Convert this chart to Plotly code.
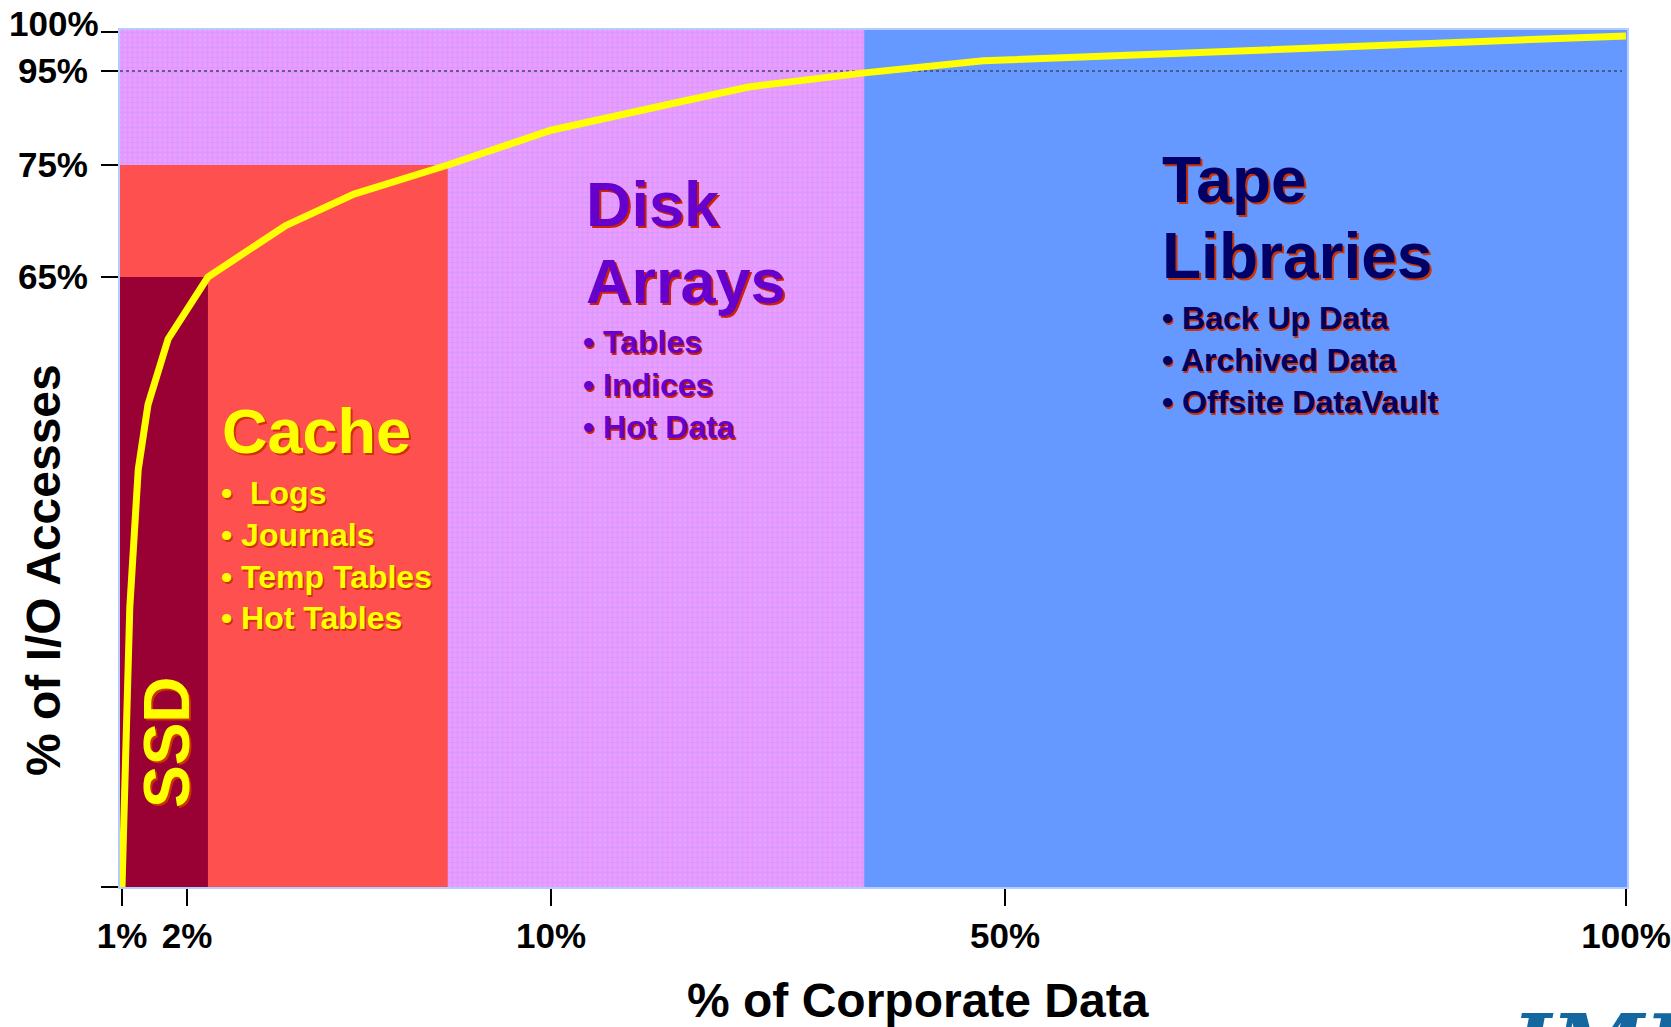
import numpy as np
import plotly.graph_objects as go

# ---------------- data ----------------
X_TICK_PCT = [1, 2, 10, 50, 100]
X_TICK_LABELS = ["1%", "2%", "10%", "50%", "100%"]
Y_TICK_PCT = [0, 65, 75, 95, 100]
Y_TICK_LABELS = ["", "65%", "75%", "95%", ""]
Y_TOP_LABEL = "100%"   # drawn slightly above its tick, as in the original

# cumulative curve: % of corporate data vs % of I/O accesses
CURVE_DATA_PCT = [1.0, 1.12, 1.25, 1.40, 1.71, 2.46, 4.17, 5.67, 7.73, 10.0, 20.9, 27.4, 37.6, 48.1, 100.0]
CURVE_IO_PCT = [0.0, 29.8, 44.5, 51.4, 58.4, 65.0, 69.6, 72.4, 75.0, 82.4, 88.2, 91.6, 94.6, 96.3, 99.5]

REFERENCE_IO_PCT = 95

# storage tiers (drawn back to front)
TIERS = ["Tape Libraries", "Disk Arrays", "Cache", "SSD"]
TIER_DATA_END_PCT = [100.0, 37.6, 7.73, 2.46]
TIER_IO_TOP_PCT = [100, 100, 75, 65]
TIER_COLORS = ["#6699FF", "#F29BFF", "#FF5050", "#990033"]

CACHE_ITEMS = ["\u2022\u00a0 Logs", "\u2022 Journals", "\u2022 Temp Tables", "\u2022 Hot Tables"]
DISK_ITEMS = ["\u2022 Tables", "\u2022 Indices", "\u2022 Hot Data"]
TAPE_ITEMS = ["\u2022 Back Up Data", "\u2022 Archived Data", "\u2022 Offsite DataVault"]

# ------------- piecewise axis scale (as in the original slide) -------------
X_AXIS_KNOTS = [0, 65, 429, 883, 1504]
Y_AXIS_KNOTS = [0, 610, 722, 816, 855]
X_RANGE = [-2, 1505]
Y_RANGE = [0, 857]


def xs(v):
    return np.interp(v, X_TICK_PCT, X_AXIS_KNOTS)


def ys(v):
    return np.interp(v, Y_TICK_PCT, Y_AXIS_KNOTS)


W, H = 1671, 1027
ML, MR, MT, MB = 120, 44, 30, 140
PW, PH = W - ML - MR, H - MT - MB
FONT = "Liberation Sans, Arial, sans-serif"

fig = go.Figure()

for name, xend, ytop, col in zip(TIERS, TIER_DATA_END_PCT, TIER_IO_TOP_PCT, TIER_COLORS):
    x1 = X_RANGE[1] if xend >= 100 else float(xs(xend))
    x0 = X_RANGE[0]
    y1 = float(ys(ytop)) if ytop < 100 else Y_RANGE[1]
    kw = dict(fillcolor=col)
    if name == "Disk Arrays":
        kw["fillpattern"] = dict(shape="+", bgcolor=col, fgcolor="#BC9CFF", size=5, solidity=0.55)
    fig.add_trace(go.Scatter(
        x=[x0, x1, x1, x0, x0], y=[0, 0, y1, y1, 0], mode="lines",
        line=dict(width=0, color=col), fill="toself", hoverinfo="skip",
        showlegend=False, name=name, **kw))

fig.add_trace(go.Scatter(
    x=[X_RANGE[0], X_RANGE[1] - 5], y=[float(ys(REFERENCE_IO_PCT))] * 2, mode="lines",
    line=dict(color="#444466", width=1.5, dash="dot"), hoverinfo="skip", showlegend=False))

fig.add_trace(go.Scatter(
    x=xs(CURVE_DATA_PCT), y=ys(CURVE_IO_PCT), mode="lines",
    line=dict(color="#FFFF00", width=7), showlegend=False, cliponaxis=False))


def ann(text, px, py, size, color, shadow=None, angle=0, xanchor="left", yanchor="middle",
        family=FONT, style="normal"):
    f = dict(family=family, size=size, color=color, weight="bold", style=style)
    if shadow:
        f["shadow"] = shadow
    fig.add_annotation(text=text, x=(px - ML) / PW, y=(MT + PH - py) / PH, xref="paper", yref="paper",
                       showarrow=False, xanchor=xanchor, yanchor=yanchor, textangle=angle,
                       font=f, align="left")


YEL, CSH = "#FFFF00", "2px 2px 0px #CC3300"
ann("SSD", 167, 742, 64, YEL, "-2px 2px 0px #CC3300", angle=-90, xanchor="center")
ann("Cache", 220, 431, 63, YEL, CSH)
for t, py in zip(CACHE_ITEMS, [493, 535, 577, 618]):
    ann(t, 219, py, 32, YEL, "1.5px 1.5px 0px #CC3300")

PUR = "#6600CC"
ann("Disk", 584, 204, 63, PUR, "2px 2px 0px #CC2200")
ann("Arrays", 584, 281, 63, PUR, "2px 2px 0px #CC2200")
for t, py in zip(DISK_ITEMS, [342, 385, 427]):
    ann(t, 581, py, 32, PUR, "1.5px 1.5px 0px #CC2200")

NAV = "#000066"
ann("Tape", 1160, 180, 64, NAV, "2px 2px 0px #CC3300")
ann("Libraries", 1160, 256, 64, NAV, "2px 2px 0px #CC3300")
for t, py in zip(TAPE_ITEMS, [318, 360, 402]):
    ann(t, 1160, py, 32, NAV, "1.5px 1.5px 0px #CC3300")

ann(Y_TOP_LABEL, 101, 23, 35, "#000000", xanchor="right")
ann("% of Corporate Data", 918, 1000, 48, "#000000", xanchor="center")
ann("% of I/O Accesses", 43, 570, 48, "#000000", angle=-90, xanchor="center")
ann("IMEX", 1508, 994, 84, "#15679F", xanchor="left", yanchor="top",
    family="DejaVu Serif, serif", style="italic")

axis_common = dict(showgrid=False, zeroline=False, showline=True, linecolor="#B4CCFF", linewidth=2,
                   mirror=True, ticks="outside", tickwidth=2, tickcolor="#000000", ticklen=17,
                   automargin=False,
                   tickfont=dict(family=FONT, size=35, color="#000000", weight="bold"))

fig.update_xaxes(range=X_RANGE, tickvals=xs(X_TICK_PCT), ticktext=X_TICK_LABELS,
                 ticklabelstandoff=0, **axis_common)
fig.update_yaxes(range=Y_RANGE, tickvals=ys(Y_TICK_PCT), ticktext=Y_TICK_LABELS,
                 ticklabelstandoff=6, **axis_common)

fig.update_layout(width=W, height=H, margin=dict(l=ML, r=MR, t=MT, b=MB, pad=0, autoexpand=False),
                  plot_bgcolor="#6699FF", paper_bgcolor="#FFFFFF", showlegend=False)

fig.write_html("out.html", config={"displayModeBar": False},
               post_script="document.body.style.margin='0';document.body.style.overflow='hidden';")
